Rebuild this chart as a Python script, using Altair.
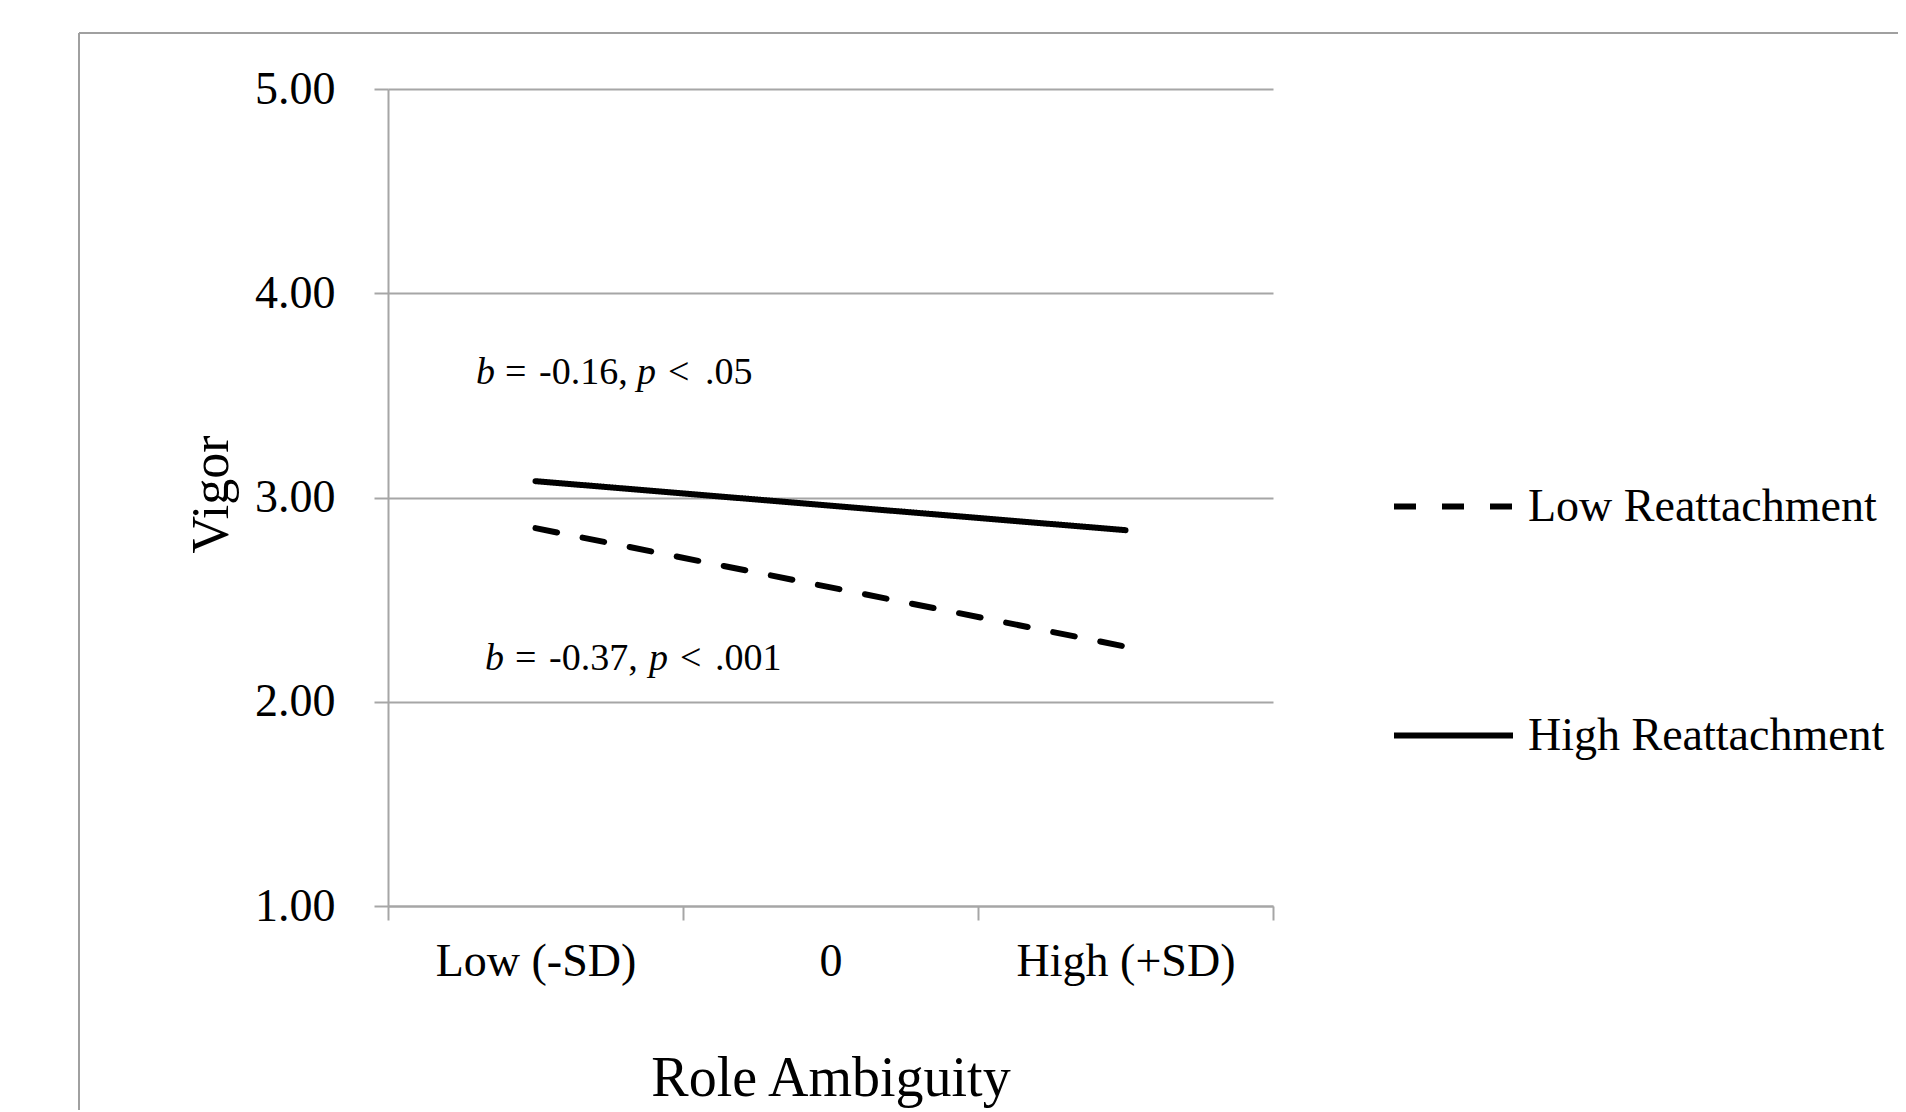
import altair as alt
import pandas as pd

# ---- data ----
ambiguity_levels = ["Low (-SD)", "0", "High (+SD)"]
series_names = ["Low Reattachment", "High Reattachment"]
line_x = ["Low (-SD)", "High (+SD)"]
low_reattach_vigor = [2.85, 2.27]
high_reattach_vigor = [3.08, 2.84]
y_ticks = [1.0, 2.0, 3.0, 4.0, 5.0]

rows = []
for x, v in zip(line_x, low_reattach_vigor):
    rows.append({"ambiguity": x, "vigor": v, "group": "Low Reattachment"})
for x, v in zip(line_x, high_reattach_vigor):
    rows.append({"ambiguity": x, "vigor": v, "group": "High Reattachment"})
df = pd.DataFrame(rows)

# annotation pieces (text, style)
ann_text = ["b", "=", "-0.16,", "p", "<", ".05",
            "b", "=", "-0.37,", "p", "<", ".001"]
ann_italic = [True, False, False, True, False, False,
              True, False, False, True, False, False]
ann_px = [88, 117, 151, 249, 280, 317,
          97, 127, 161, 261, 292, 327]
ann_py = [295, 295, 295, 295, 295, 295,
          581, 581, 581, 581, 581, 581]
ann = pd.DataFrame({"t": ann_text, "it": ann_italic, "px": ann_px, "py": ann_py})

FONT = "Liberation Serif"
GRAY = "#a6a6a6"
W, H = 885, 817

x_enc = alt.X(
    "ambiguity:N",
    scale=alt.Scale(type="band", domain=ambiguity_levels, paddingInner=0, paddingOuter=0),
    axis=alt.Axis(
        title="Role Ambiguity",
        labelAngle=0,
        labelFont=FONT, labelFontSize=46, labelColor="black", labelLimit=600,
        labelBaseline="alphabetic", labelPadding=55,
        tickBand="extent", tickSize=14, tickColor=GRAY, tickWidth=2,
        domainColor=GRAY, domainWidth=2,
        grid=False,
        titleFont=FONT, titleFontSize=56, titleFontWeight="normal", titleColor="black",
        titleBaseline="alphabetic", titleY=189, titleX=W / 2, titleAlign="center",
        titleLimit=1000,
    ),
)
y_enc = alt.Y(
    "vigor:Q",
    scale=alt.Scale(domain=[1, 5], nice=False, zero=False),
    axis=alt.Axis(
        title="Vigor",
        values=y_ticks, format=".2f",
        labelFont=FONT, labelFontSize=46, labelColor="black", labelPadding=39,
        tickSize=14, tickColor=GRAY, tickWidth=2,
        domainColor=GRAY, domainWidth=2,
        grid=True, gridColor=GRAY, gridWidth=2,
        titleFont=FONT, titleFontSize=52, titleFontWeight="normal", titleColor="black",
        titleAngle=270, titleBaseline="alphabetic", titleX=-161, titleY=405, titleAlign="center",
    ),
)

lines = alt.Chart(df).mark_line(color="black", strokeWidth=6, strokeCap="round").encode(
    x=x_enc,
    y=y_enc,
    strokeDash=alt.StrokeDash(
        "group:N",
        scale=alt.Scale(domain=series_names, range=[[22, 26], [1, 0]]),
        legend=alt.Legend(
            title=None, orient="none", legendX=1003, legendY=355,
            symbolType="stroke", symbolSize=14161, symbolStrokeWidth=6,
            symbolStrokeColor="black",
            labelFont=FONT, labelFontSize=46, labelColor="black", labelOffset=12,
            rowPadding=143, padding=0,
            labelLimit=600,
        ),
    ),
    detail="group:N",
)

ann_norm = alt.Chart(ann).transform_filter("!datum.it").mark_text(
    font=FONT, fontSize=38, align="left", baseline="alphabetic", color="black"
).encode(x=alt.X("px:Q", scale=None), y=alt.Y("py:Q", scale=None), text="t:N")
ann_ital = alt.Chart(ann).transform_filter("datum.it").mark_text(
    font=FONT, fontSize=38, fontStyle="italic", align="left", baseline="alphabetic", color="black"
).encode(x=alt.X("px:Q", scale=None), y=alt.Y("py:Q", scale=None), text="t:N")

frame_src = alt.Data(values=[{"k": 1}])
frame_top = alt.Chart(frame_src).mark_rule(color="#a0a0a0", strokeWidth=2).encode(
    x=alt.value(-309), x2=alt.value(1510), y=alt.value(-56))
frame_left = alt.Chart(frame_src).mark_rule(color="#a0a0a0", strokeWidth=2).encode(
    x=alt.value(-309), y=alt.value(-56), y2=alt.value(1025))

chart = alt.layer(frame_top, frame_left, lines, ann_norm, ann_ital).properties(
    width=W, height=H,
    padding={"left": 380, "top": 81, "right": 625, "bottom": 204},
    autosize=alt.AutoSizeParams(type="none"),
    background="white",
).configure_view(stroke=None)

chart.save("out.html", embed_options={"renderer": "svg", "actions": False})
